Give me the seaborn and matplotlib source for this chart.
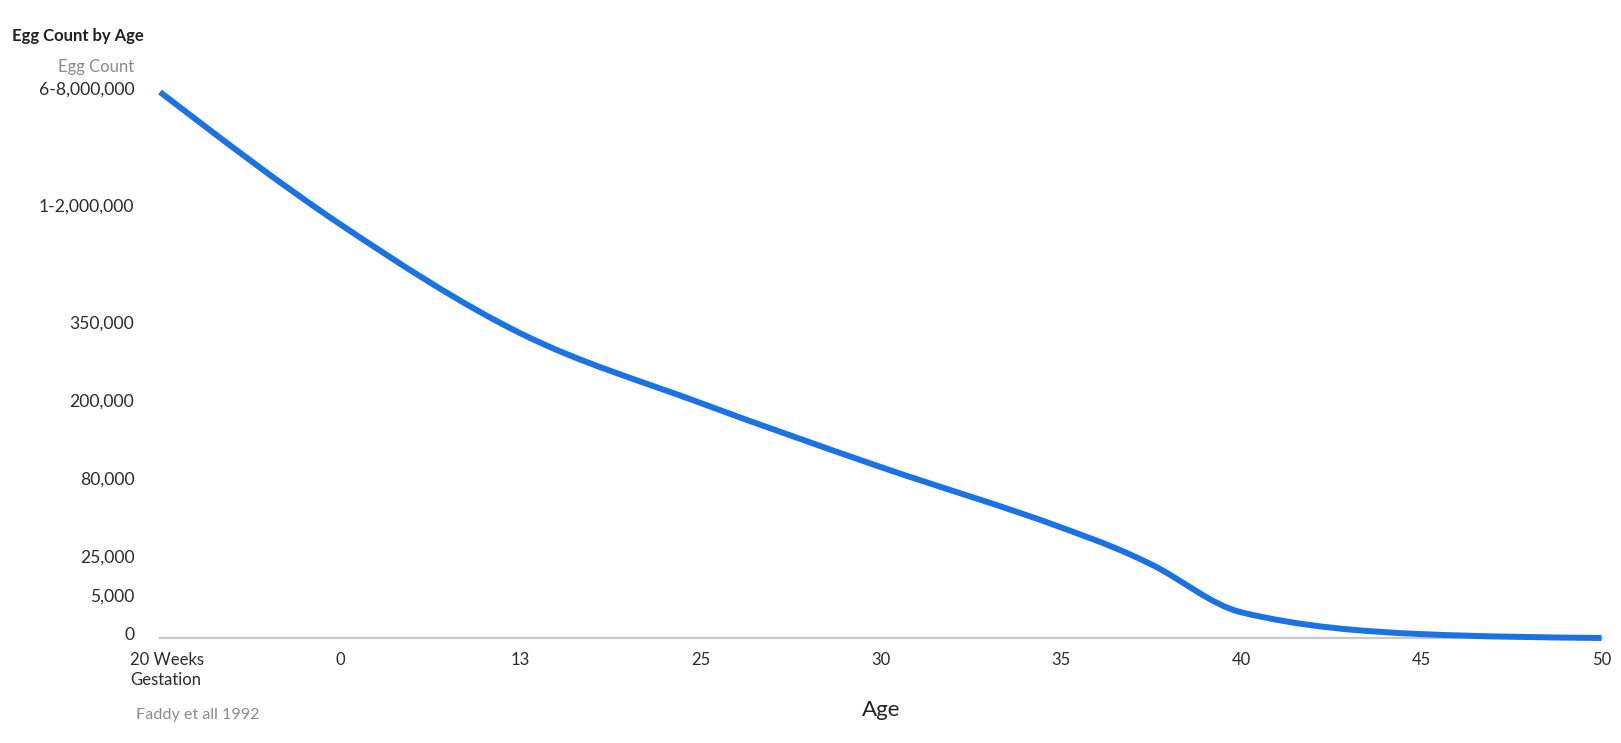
import numpy as np
import matplotlib
matplotlib.use('Agg')
import matplotlib.pyplot as plt
import matplotlib.transforms as mtransforms
from matplotlib.path import Path
from matplotlib.patches import PathPatch
import seaborn as sns

# Egg count by age (Faddy et al 1992)
age_ticks = [-0.4, 0, 13, 25, 30, 35, 40, 45, 50]
age_labels = ['20 Weeks\nGestation', '0', '13', '25', '30', '35', '40', '45', '50']

count_ticks = [0, 5000, 25000, 80000, 200000, 350000, 1500000, 7000000]
count_labels = ['0', '5,000', '25,000', '80,000', '200,000', '350,000',
                '1-2,000,000', '6-8,000,000']
# the chart spaces the count ticks unevenly, not in proportion to value
count_tick_pos = [0, 1, 2, 4, 6, 8, 11, 14]

ages = [-0.4, 0, 13, 25, 30, 35, 36.5, 37, 37.5, 40, 45, 50]
eggs = [7000000, 1350000, 336000, 202000, 103000, 48000, 33500, 28000, 22800,
        3300, 500, 0]

line_color = '#1a72e3'

sns.set_theme(style='white')
plt.rcParams['font.family'] = ['Lato', 'DejaVu Sans']

fig = plt.figure(figsize=(16.21, 7.43), dpi=100)
ax = fig.add_axes([160 / 1621, 105 / 743, 1441.5 / 1621, 546 / 743])

age_pos = np.arange(len(age_ticks))


def x_fwd(v):
    return np.interp(v, age_ticks, age_pos)


def x_inv(p):
    return np.interp(p, age_pos, age_ticks)


def y_fwd(v):
    return np.interp(v, count_ticks, count_tick_pos)


def y_inv(p):
    return np.interp(p, count_tick_pos, count_ticks)


ax.set_xscale('function', functions=(x_fwd, x_inv))
ax.set_yscale('function', functions=(y_fwd, y_inv))
ax.set_xlim(age_ticks[0], age_ticks[-1])
ax.set_ylim(0, count_ticks[-1])

# smooth monotone curve (like d3 curveMonotoneX) drawn as bezier segments
# in the scaled space of the axes
xs = x_fwd(np.array(ages, dtype=float))
ys = y_fwd(np.array(eggs, dtype=float))
h = np.diff(xs)
s = np.diff(ys) / h
t = np.zeros(len(xs))
for i in range(1, len(xs) - 1):
    if s[i - 1] * s[i] <= 0:
        t[i] = 0
    else:
        p = (s[i - 1] * h[i] + s[i] * h[i - 1]) / (h[i - 1] + h[i])
        t[i] = (np.sign(s[i - 1]) + np.sign(s[i])) * min(abs(s[i - 1]), abs(s[i]), 0.5 * abs(p))
t[0] = (3 * s[0] - t[1]) / 2
t[-1] = (3 * s[-1] - t[-2]) / 2

verts = [(xs[0], ys[0])]
codes = [Path.MOVETO]
for i in range(len(xs) - 1):
    d = h[i] / 3
    verts += [(xs[i] + d, ys[i] + d * t[i]),
              (xs[i + 1] - d, ys[i + 1] - d * t[i + 1]),
              (xs[i + 1], ys[i + 1])]
    codes += [Path.CURVE4] * 3
curve = PathPatch(Path(verts, codes), facecolor='none', edgecolor=line_color,
                  linewidth=4.3, capstyle='butt', joinstyle='round',
                  transform=ax.transLimits + ax.transAxes, clip_on=False, zorder=3)
ax.add_patch(curve)

# axes styling
sns.despine(ax=ax, left=True, top=True, right=True)
ax.spines['bottom'].set_color('#c8c8c8')
ax.spines['bottom'].set_linewidth(1.6)
ax.grid(False)
ax.set_facecolor('white')

ax.set_xticks(age_ticks, labels=age_labels)
ax.set_yticks(count_ticks, labels=count_labels)
ax.minorticks_off()
ax.tick_params(axis='both', length=0, labelcolor='#2b2b2b')
ax.tick_params(axis='y', pad=18.5, labelsize=12.6)
ax.tick_params(axis='x', pad=10, labelsize=12)

up = mtransforms.ScaledTranslation(0, 4 / 100, fig.dpi_scale_trans)
for lab in ax.get_yticklabels():
    lab.set_transform(lab.get_transform() + up)
first = ax.get_xticklabels()[0]
first.set_multialignment('left')
first.set_linespacing(1.28)
first.set_transform(first.get_transform()
                    + mtransforms.ScaledTranslation(7 / 100, 0, fig.dpi_scale_trans))
ax.set_xlabel('')
ax.set_ylabel('')

fig.text(881 / 1621, 1 - 710 / 743, 'Age', fontsize=16, color='#222222',
         ha='center', va='center')
fig.text(12.5 / 1621, 1 - 36 / 743, 'Egg Count by Age', fontsize=12, fontweight='bold',
         color='#222222', ha='left', va='center')
fig.text(134.5 / 1621, 1 - 67 / 743, 'Egg Count', fontsize=12, color='#8a8a8a',
         ha='right', va='center')
fig.text(135.5 / 1621, 1 - 715 / 743, 'Faddy et all 1992', fontsize=11.6, color='#8a8a8a',
         ha='left', va='center')

fig.savefig('out.png', dpi=100, facecolor='white')
